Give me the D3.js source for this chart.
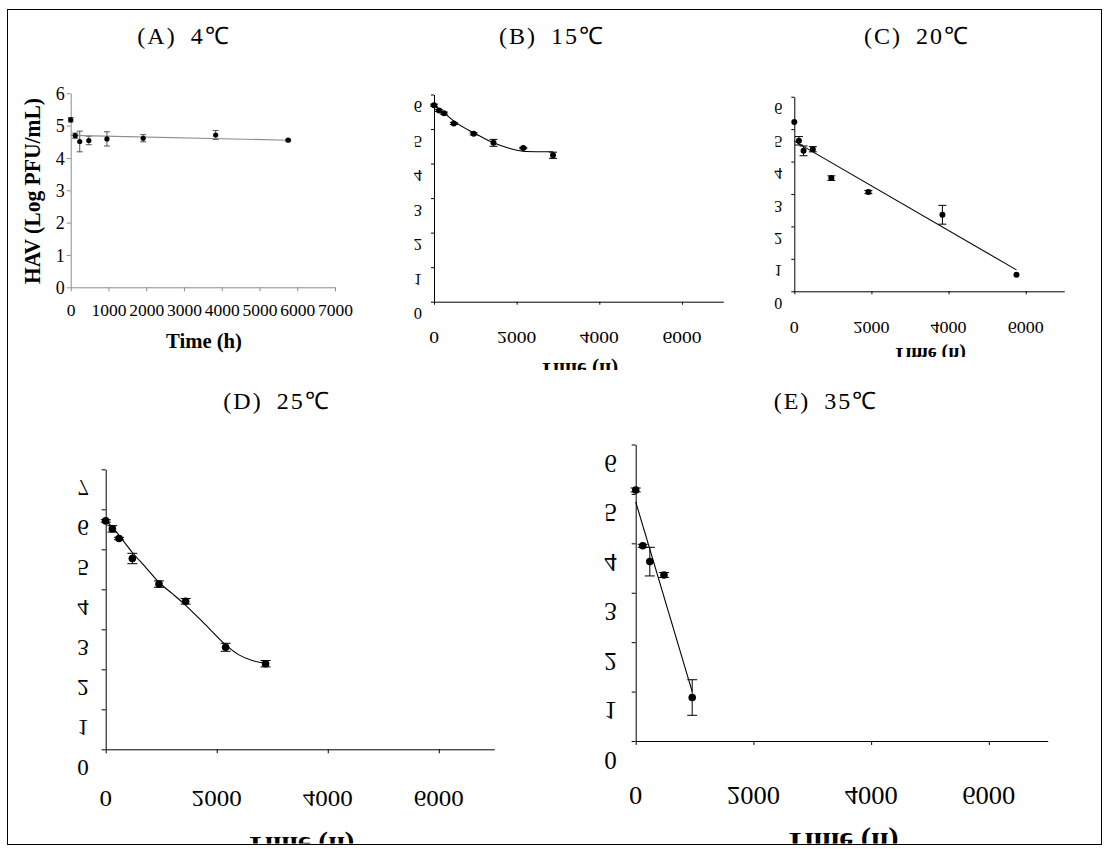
<!DOCTYPE html>
<html><head><meta charset="utf-8">
<script src="https://cdn.jsdelivr.net/npm/d3@7"></script>
<style>body{margin:0;background:#fff}svg{display:block}</style>
</head><body>
<svg id="chart" width="1111" height="849"></svg>
<script>
// ---------- DATA ----------
const panelTitles = ["(A) 4℃", "(B) 15℃", "(C) 20℃", "(D) 25℃", "(E) 35℃"];
const xAxisTitle = "Time (h)";
const yAxisTitle = "HAV (Log PFU/mL)";
const xTicksA = [0, 1000, 2000, 3000, 4000, 5000, 6000, 7000];
const xTicksBE = [0, 2000, 4000, 6000];
const yTicks6 = [0, 1, 2, 3, 4, 5, 6];
const yTicks7 = [0, 1, 2, 3, 4, 5, 6, 7];

const timeA = [0, 120, 240, 480, 960, 1920, 3840, 5760];
const logA  = [5.18, 4.69, 4.51, 4.54, 4.59, 4.61, 4.71, 4.55];
const errA  = [0.07, 0.08, 0.32, 0.13, 0.22, 0.11, 0.14, 0.03];
const fitTimeA = [0, 5760];
const fitLogA  = [4.70, 4.55];

const timeB = [0, 120, 240, 480, 960, 1440, 2160, 2880];
const logB  = [5.69, 5.54, 5.46, 5.16, 4.86, 4.60, 4.45, 4.24];
const errB  = [0.03, 0.03, 0.03, 0.03, 0.03, 0.10, 0.02, 0.09];
const fitTimeB = [0, 240, 480, 960, 1200, 1440, 1800, 2040, 2200, 2880];
const fitLogB  = [5.69, 5.47, 5.23, 4.89, 4.74, 4.60, 4.45, 4.38, 4.35, 4.34];

const timeC = [0, 120, 240, 480, 960, 1920, 3840, 5760];
const logC  = [5.22, 4.64, 4.33, 4.38, 3.49, 3.06, 2.36, 0.51];
const errC  = [0, 0.13, 0.15, 0.08, 0.07, 0.05, 0.29, 0];
const fitTimeC = [0, 5760];
const fitLogC  = [4.63, 0.66];

const timeD = [0, 120, 240, 480, 960, 1440, 2160, 2880];
const logD  = [5.71, 5.51, 5.27, 4.77, 4.13, 3.70, 2.55, 2.14];
const errD  = [0.03, 0.08, 0.03, 0.13, 0.08, 0.07, 0.10, 0.08];
const fitTimeD = [0, 120, 240, 480, 720, 960, 1200, 1440, 1800, 2160, 2400, 2640, 2880];
const fitLogD  = [5.72, 5.55, 5.35, 4.92, 4.55, 4.17, 3.89, 3.60, 3.11, 2.61, 2.36, 2.22, 2.15];

const timeE = [0, 120, 240, 480, 960];
const logE  = [5.08, 3.95, 3.63, 3.36, 0.88];
const errE  = [0.04, 0.03, 0.29, 0.05, 0.36];
const fitTimeE = [0, 960];
const fitLogE  = [4.84, 1.00];

// ---------- LAYOUT ----------
const svg = d3.select("#chart");
svg.append("rect").attr("x", 7.5).attr("y", 9.5).attr("width", 1094).attr("height", 835)
  .attr("fill", "#fff").attr("stroke", "#000").attr("stroke-width", 1);

const SERIF = "'Liberation Serif','Times New Roman',serif";

const panels = [
  { id: "A", title: panelTitles[0], tx: 184, ty: 36, tFont: 24,
    t: timeA, v: logA, e: errA, ft: fitTimeA, fv: fitLogA, curve: false,
    left: 70.7, right: 335, bottom: 287.3, top: 93.3, xMax: 7000, yMax: 6,
    xTicks: xTicksA, yTicks: yTicks6, flip: false,
    axisColor: "#8c8c8c", lineColor: "#8c8c8c", errColor: "#555", r: 2.6, cap: 3, tick: 4 },
  { id: "B", title: panelTitles[1], tx: 552, ty: 36, tFont: 24,
    t: timeB, v: logB, e: errB, ft: fitTimeB, fv: fitLogB, curve: true,
    left: 434, right: 723.3, bottom: 301.7, top: 94.5, xMax: 7000, yMax: 6,
    xTicks: xTicksBE, yTicks: yTicks6, flip: true,
    yGap: 12, yOff: 12, yFont: 16.5, xLabY: 337, xFont: 17, xLabW: 39,
    timeFont: 20, timeW: 79, timeBase: 363, timeClip: 370,
    axisColor: "#000", lineColor: "#000", errColor: "#000", r: 3, cap: 4, tick: 3 },
  { id: "C", title: panelTitles[2], tx: 917, ty: 36, tFont: 24,
    t: timeC, v: logC, e: errC, ft: fitTimeC, fv: fitLogC, curve: false,
    left: 794.3, right: 1064.3, bottom: 291.3, top: 96.7, xMax: 7000, yMax: 6,
    xTicks: xTicksBE, yTicks: yTicks6, flip: true,
    yGap: 12, yOff: 12, yFont: 16, xLabY: 327, xFont: 16.5, xLabW: 36,
    timeFont: 19, timeW: 73, timeBase: 348, timeClip: 357,
    axisColor: "#000", lineColor: "#000", errColor: "#000", r: 3, cap: 4, tick: 3 },
  { id: "D", title: panelTitles[3], tx: 277, ty: 401, tFont: 24,
    t: timeD, v: logD, e: errD, ft: fitTimeD, fv: fitLogD, curve: true,
    left: 105.7, right: 494.3, bottom: 749.3, top: 469.3, xMax: 7000, yMax: 7,
    xTicks: xTicksBE, yTicks: yTicks7, flip: true,
    yGap: 17, yOff: 18.5, yFont: 23, xLabY: 798, xFont: 23, xLabW: 50,
    timeFont: 26, timeW: 109, timeBase: 837, timeClip: 843.5,
    axisColor: "#000", lineColor: "#000", errColor: "#000", r: 3.8, cap: 5, tick: 4 },
  { id: "E", title: panelTitles[4], tx: 826, ty: 401, tFont: 24,
    t: timeE, v: logE, e: errE, ft: fitTimeE, fv: fitLogE, curve: false,
    left: 635.7, right: 1047.7, bottom: 741, top: 444.5, xMax: 7000, yMax: 6,
    xTicks: xTicksBE, yTicks: yTicks6, flip: true,
    yGap: 19, yOff: 19, yFont: 25, xLabY: 795, xFont: 25, xLabW: 53,
    timeFont: 27, timeW: 114, timeBase: 833, timeClip: 843.5,
    axisColor: "#000", lineColor: "#000", errColor: "#000", r: 3.8, cap: 5, tick: 4 }
];

function drawPanel(p) {
  const x = d3.scaleLinear().domain([0, p.xMax]).range([p.left, p.right]);
  const y = d3.scaleLinear().domain([0, p.yMax]).range([p.bottom, p.top]);
  const g = svg.append("g").attr("class", "panel-" + p.id);

  // title: "(X)" then a gap then the temperature
  const parts = p.title.split(" ");
  const tt = g.append("text").attr("x", p.tx).attr("y", p.ty).attr("text-anchor", "middle")
    .attr("dominant-baseline", "central")
    .attr("font-family", SERIF).attr("font-size", p.tFont).attr("letter-spacing", 2);
  tt.append("tspan").text(parts[0]);
  tt.append("tspan").attr("dx", 14).text(parts[1]);

  // axes
  const xa = g.append("g").attr("transform", `translate(0,${p.bottom})`)
    .call(d3.axisBottom(x).tickValues(p.xTicks).tickSize(p.tick).tickSizeOuter(0)
      .tickFormat(p.flip ? "" : d3.format("d")));
  const ya = g.append("g").attr("transform", `translate(${p.left},0)`)
    .call(d3.axisLeft(y).tickValues(p.yTicks).tickSize(p.tick).tickSizeOuter(0)
      .tickFormat(p.flip ? "" : d3.format("d")));
  [xa, ya].forEach(a => {
    a.select(".domain").attr("stroke", p.axisColor).attr("stroke-width", 1);
    a.selectAll(".tick line").attr("stroke", p.axisColor);
    a.selectAll("text").attr("font-family", SERIF).attr("font-size", 17.5).attr("fill", "#000");
  });

  if (!p.flip) {
    xa.selectAll("text").attr("dy", null).attr("y", 23).attr("dominant-baseline", "central");
    ya.selectAll("text").attr("x", -6).attr("dy", "0.35em").attr("font-size", 18);
    g.append("text").attr("x", 204).attr("y", 348).attr("text-anchor", "middle")
      .attr("font-family", SERIF).attr("font-weight", "bold").attr("font-size", 21.5)
      .attr("textLength", 76).attr("lengthAdjust", "spacingAndGlyphs")
      .text(xAxisTitle);
    g.append("text").attr("transform", "translate(40,191) rotate(-90)")
      .attr("text-anchor", "middle")
      .attr("font-family", SERIF).attr("font-weight", "bold").attr("font-size", 23)
      .attr("textLength", 186).attr("lengthAdjust", "spacingAndGlyphs")
      .text(yAxisTitle);
  } else {
    // vertically mirrored tick labels
    p.yTicks.forEach(v => {
      g.append("g").attr("transform", `translate(${p.left - p.yGap},${y(v) + p.yOff}) scale(1,-1)`)
        .append("text").attr("text-anchor", "end").attr("dominant-baseline", "central")
        .attr("font-family", SERIF).attr("font-size", p.yFont).text(String(v));
    });
    p.xTicks.forEach(v => {
      const s = String(v);
      g.append("g").attr("transform", `translate(${x(v)},${p.xLabY}) scale(1,-1)`)
        .append("text").attr("text-anchor", "middle").attr("dominant-baseline", "central")
        .attr("font-family", SERIF).attr("font-size", p.xFont)
        .attr("textLength", p.xLabW * s.length / 4).attr("lengthAdjust", "spacingAndGlyphs")
        .text(s);
    });
    // mirrored axis title, cut off at the bottom as in the reference
    const cid = "clip" + p.id;
    svg.append("clipPath").attr("id", cid).append("rect")
      .attr("x", 0).attr("y", 0).attr("width", 1111).attr("height", p.timeClip);
    g.append("g").attr("clip-path", `url(#${cid})`)
      .append("g").attr("transform", `translate(${(p.left + p.right) / 2},${p.timeBase}) scale(1,-1)`)
      .append("text").attr("text-anchor", "middle")
      .attr("font-family", SERIF).attr("font-weight", "bold").attr("font-size", p.timeFont)
      .attr("textLength", p.timeW).attr("lengthAdjust", "spacingAndGlyphs")
      .text(xAxisTitle);
  }

  const pts = p.t.map((t, i) => ({ t, v: p.v[i], e: p.e[i] }));
  // error bars
  const eb = g.append("g").attr("stroke", p.errColor).attr("stroke-width", 1);
  pts.filter(d => d.e > 0).forEach(d => {
    eb.append("line").attr("x1", x(d.t)).attr("x2", x(d.t)).attr("y1", y(d.v - d.e)).attr("y2", y(d.v + d.e));
    eb.append("line").attr("x1", x(d.t) - p.cap).attr("x2", x(d.t) + p.cap).attr("y1", y(d.v - d.e)).attr("y2", y(d.v - d.e));
    eb.append("line").attr("x1", x(d.t) - p.cap).attr("x2", x(d.t) + p.cap).attr("y1", y(d.v + d.e)).attr("y2", y(d.v + d.e));
  });
  // fitted line
  const fit = p.ft.map((t, i) => ({ t, v: p.fv[i] }));
  g.append("path").datum(fit)
    .attr("d", d3.line().x(d => x(d.t)).y(d => y(d.v)).curve(p.curve ? d3.curveMonotoneX : d3.curveLinear))
    .attr("fill", "none").attr("stroke", p.lineColor).attr("stroke-width", 1.1);
  // points
  g.append("g").selectAll("circle").data(pts).join("circle")
    .attr("cx", d => x(d.t)).attr("cy", d => y(d.v)).attr("r", p.r).attr("fill", "#000");
}

panels.forEach(drawPanel);
</script>
</body></html>
